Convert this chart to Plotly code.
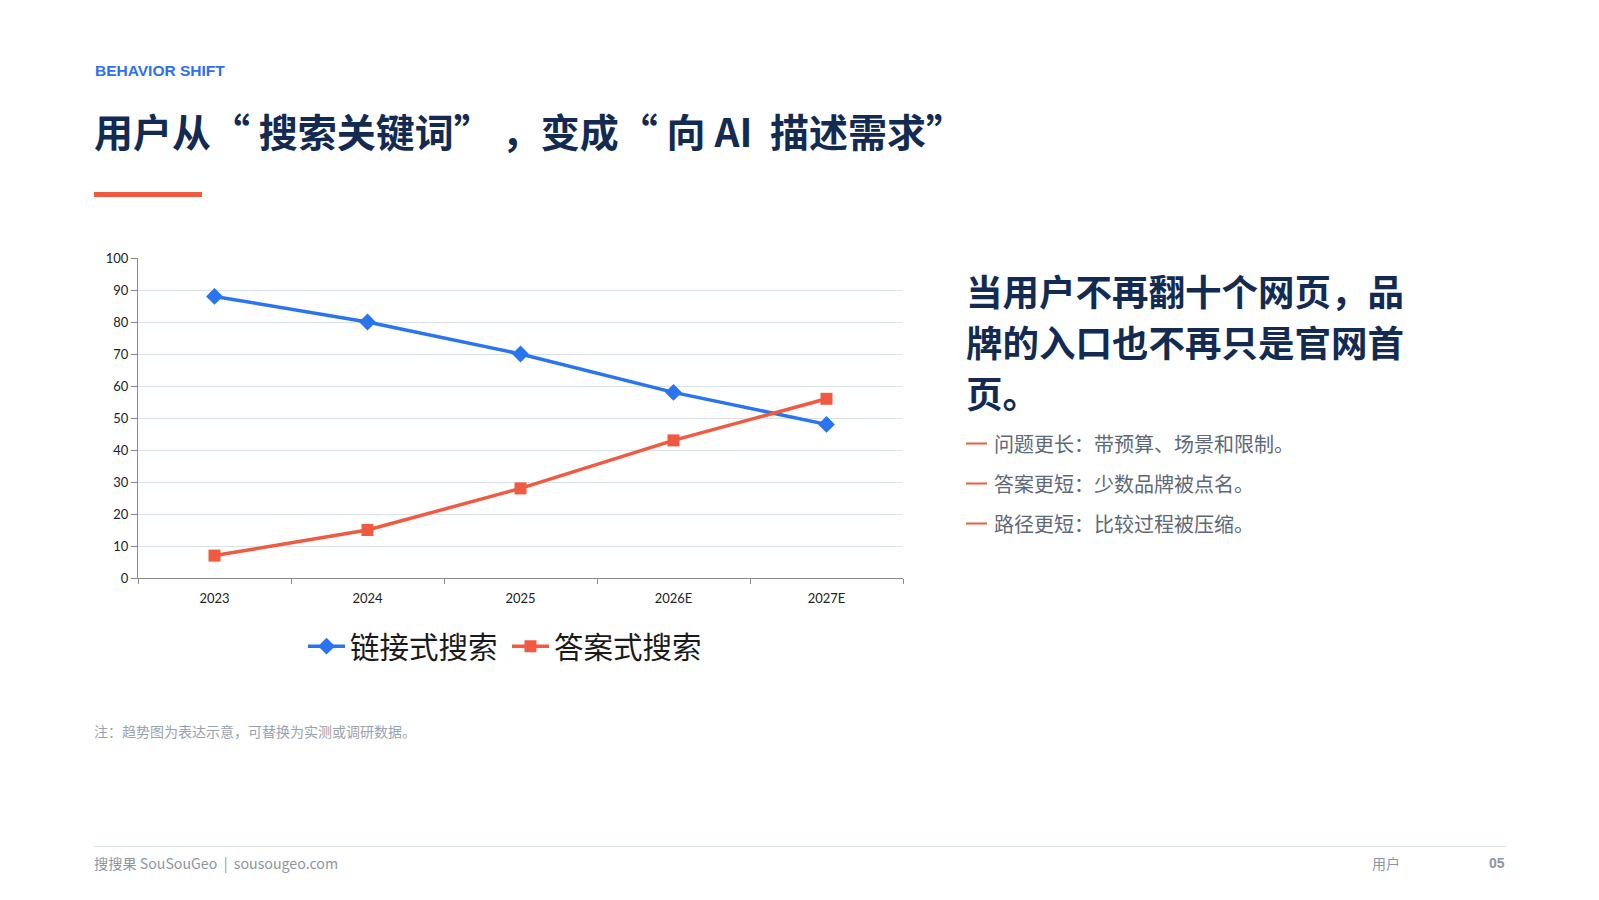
import plotly.graph_objects as go

# ---- data ----
categories = ["2023", "2024", "2025", "2026E", "2027E"]
link_search = [88, 80, 70, 58, 48]
answer_search = [7, 15, 28, 43, 56]
series_names = ["链接式搜索", "答案式搜索"]
y_tick_values = [0, 10, 20, 30, 40, 50, 60, 70, 80, 90, 100]

eyebrow = "BEHAVIOR SHIFT"
title = "用户从“ 搜索关键词” ，变成“ 向 AI  描述需求”"
heading_lines = ["当用户不再翻十个网页，品", "牌的入口也不再只是官网首", "页。"]
bullets = ["问题更长：带预算、场景和限制。", "答案更短：少数品牌被点名。", "路径更短：比较过程被压缩。"]
note = "注：趋势图为表达示意，可替换为实测或调研数据。"
footer_left = "搜搜果 SouSouGeo  |  sousougeo.com"
footer_mid = "用户"
footer_page = "05"

# ---- style ----
W, H = 1599, 900
L, R, T, B = 138, 903, 258, 578
BLUE = "#2a74f2"
RED = "#ef5a41"
NAVY = "#132b52"
CJK = "Noto Sans CJK SC"


def X(px):
    return (px - L) / (R - L)


def Y(py):
    return (B - py) / (B - T)


fig = go.Figure()
fig.add_trace(go.Scatter(
    x=categories, y=link_search, name=series_names[0], mode="lines+markers",
    line=dict(color=BLUE, width=3.5),
    marker=dict(symbol="diamond", size=13, color=BLUE),
))
fig.add_trace(go.Scatter(
    x=categories, y=answer_search, name=series_names[1], mode="lines+markers",
    line=dict(color=RED, width=3.5),
    marker=dict(symbol="square", size=12, color=RED),
))

ann = []
ann.append(dict(text=f"<b>{eyebrow}</b>", x=X(93), y=Y(71), xanchor="left", yanchor="middle",
                font=dict(family="Liberation Sans", size=15.5, color="#2d6fee")))
ann.append(dict(text=title, x=X(92), y=Y(130), xanchor="left", yanchor="middle",
                font=dict(family=CJK, size=39, color=NAVY, weight=700)))
for i, line in enumerate(heading_lines):
    ann.append(dict(text=line, x=X(964), y=Y(290.5 + i * 51), xanchor="left", yanchor="middle",
                    font=dict(family=CJK, size=36.5, color=NAVY, weight=700)))
for i, b in enumerate(bullets):
    ann.append(dict(text=b, x=X(992), y=Y(443 + i * 40), xanchor="left", yanchor="middle",
                    font=dict(family=CJK, size=20, color="#5d6878")))
ann.append(dict(text=note, x=X(92), y=Y(731), xanchor="left", yanchor="middle",
                font=dict(family=CJK, size=14, color="#9aa2ad")))
ann.append(dict(text=footer_left, x=X(92), y=Y(862.5), xanchor="left", yanchor="middle",
                font=dict(family=CJK, size=14.2, color="#8d96a2")))
ann.append(dict(text=footer_mid, x=X(1370), y=Y(862.5), xanchor="left", yanchor="middle",
                font=dict(family=CJK, size=14, color="#8d96a2")))
ann.append(dict(text=f"<b>{footer_page}</b>", x=X(1507), y=Y(862.5), xanchor="right", yanchor="middle",
                font=dict(family="Liberation Sans", size=14, color="#8d96a2")))
for a in ann:
    a.update(xref="paper", yref="paper", showarrow=False)

shapes = [
    dict(type="rect", xref="paper", yref="paper", x0=X(94), x1=X(202), y0=Y(192), y1=Y(197),
         fillcolor=RED, line=dict(width=0)),
    dict(type="line", xref="paper", yref="paper", x0=X(94), x1=X(1506), y0=Y(846.5), y1=Y(846.5),
         line=dict(color="#dfe4ea", width=1)),
]
for i in range(len(bullets)):
    yy = Y(443.5 + i * 40)
    shapes.append(dict(type="line", xref="paper", yref="paper", x0=X(966), x1=X(987), y0=yy, y1=yy,
                       line=dict(color=RED, width=2)))

fig.update_layout(
    width=W, height=H,
    margin=dict(l=L, r=W - R, t=T, b=H - B, autoexpand=False),
    paper_bgcolor="white", plot_bgcolor="white",
    showlegend=True,
    legend=dict(orientation="h", x=X(303), y=Y(646.5), xanchor="left", yanchor="middle",
                font=dict(family=CJK, size=29.5, color="#1a1a1a"), bgcolor="rgba(0,0,0,0)",
                itemwidth=37, entrywidthmode="pixels", entrywidth=152),
    annotations=ann, shapes=shapes,
    xaxis=dict(type="category", range=[-0.5, 4.5], tickson="boundaries", ticks="outside", ticklen=5,
               tickcolor="#8a8a8a", showline=True, linecolor="#8a8a8a", linewidth=1, showgrid=False,
               ticklabelstandoff=8,
               tickfont=dict(family="Lato", size=13, color="#222222"), fixedrange=True),
    yaxis=dict(range=[0, 100], tickvals=y_tick_values, ticks="outside", ticklen=6, tickcolor="#8a8a8a",
               showline=True, linecolor="#8a8a8a", linewidth=1, gridcolor="#dce2e9", gridwidth=1,
               zeroline=False, tickfont=dict(family="Lato", size=13, color="#222222"), fixedrange=True),
)

fig.write_html("out.html")
